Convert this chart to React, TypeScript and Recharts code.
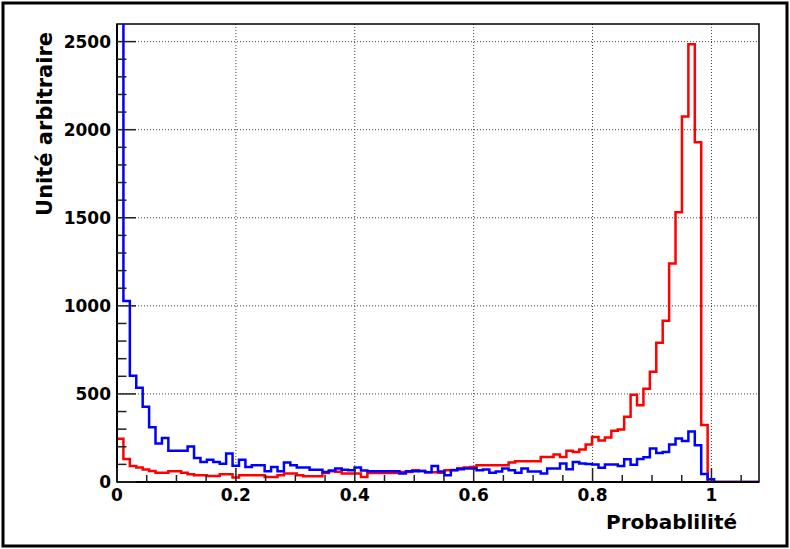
import React from 'react';
import { LineChart, Line, XAxis, YAxis, CartesianGrid, ReferenceArea } from 'recharts';

// Histogram: 100 bins over [0, 1.08]
const BIN_WIDTH = 0.0108;
const X_MAX = 1.08;
const Y_MAX = 2600;

// Red histogram (counts per bin)
const redCounts = [
  246, 130, 91, 82, 71, 63, 53, 53, 61, 61,
  53, 44, 38, 38, 34, 34, 44, 44, 25, 38,
  38, 38, 38, 28, 28, 38, 48, 48, 38, 32,
  32, 32, 51, 61, 58, 48, 48, 48, 28, 51,
  51, 51, 51, 51, 57, 57, 67, 62, 56, 56,
  52, 66, 68, 78, 83, 85, 95, 95, 95, 95,
  95, 110, 118, 118, 118, 118, 142, 142, 156, 142,
  178, 171, 185, 213, 255, 235, 253, 291, 298, 370,
  495, 436, 529, 626, 791, 915, 1240, 1531, 2075, 2485,
  1929, 323, 0, 0, 0, 0, 0, 0, 0, 0,
];

// Blue histogram (counts per bin); first bin is off scale
const blueCounts = [
  3000, 1028, 603, 535, 427, 311, 218, 250, 178, 178,
  178, 201, 136, 114, 126, 114, 103, 162, 92, 127,
  85, 95, 95, 61, 85, 61, 110, 95, 82, 82,
  70, 70, 57, 65, 76, 70, 66, 82, 65, 61,
  61, 61, 61, 61, 48, 61, 61, 62, 55, 91,
  59, 38, 66, 72, 76, 76, 67, 71, 53, 60,
  76, 67, 53, 76, 60, 60, 48, 76, 76, 105,
  73, 114, 105, 102, 100, 81, 100, 99, 91, 129,
  98, 131, 140, 190, 165, 171, 213, 247, 233, 287,
  209, 46, 16, 0, 0, 0, 0, 0, 0, 0,
];

const xTicks = [0, 0.05, 0.1, 0.15, 0.2, 0.25, 0.3, 0.35, 0.4, 0.45, 0.5, 0.55, 0.6, 0.65, 0.7, 0.75, 0.8, 0.85, 0.9, 0.95, 1, 1.05];
const xMajorTicks = [0, 0.2, 0.4, 0.6, 0.8, 1];
const xMajorLabels = ['0', '0.2', '0.4', '0.6', '0.8', '1'];
const yTicks = [0, 100, 200, 300, 400, 500, 600, 700, 800, 900, 1000, 1100, 1200, 1300, 1400, 1500, 1600, 1700, 1800, 1900, 2000, 2100, 2200, 2300, 2400, 2500];
const yMajorTicks = [0, 500, 1000, 1500, 2000, 2500];
const xGrid = [0.2, 0.4, 0.6, 0.8, 1];
const yGrid = [500, 1000, 1500, 2000, 2500];

const yTitle = 'Unité arbitraire';
const xTitle = 'Probablilité';

const FONT = "'DejaVu Sans', 'Liberation Sans', Arial, sans-serif";

const data = [
  ...redCounts.map((r, i) => ({ x: +(i * BIN_WIDTH).toFixed(4), red: r, blue: blueCounts[i] })),
  { x: X_MAX, red: redCounts[redCounts.length - 1], blue: blueCounts[blueCounts.length - 1] },
];

const majorIndex = (v: number) => xMajorTicks.findIndex((m) => Math.abs(m - v) < 1e-6);

const XTick = (props: any) => {
  const { x, y, payload } = props;
  const idx = majorIndex(payload.value);
  const major = idx >= 0;
  return (
    <g>
      <line x1={x} y1={y} x2={x} y2={y - (major ? 14 : 7)} stroke="#222" strokeWidth={1.5} />
      {major && (
        <text x={x} y={y + 19} textAnchor="middle" fontFamily={FONT} fontWeight="bold" fontSize={17} fill="#000">
          {xMajorLabels[idx]}
        </text>
      )}
    </g>
  );
};

const YTick = (props: any) => {
  const { x, y, payload } = props;
  const major = yMajorTicks.includes(payload.value);
  return (
    <g>
      <line x1={x} y1={y} x2={x + (major ? 19 : 9.5)} y2={y} stroke="#222" strokeWidth={1.5} />
      {major && (
        <text x={x - 6} y={y} dy="0.36em" textAnchor="end" fontFamily={FONT} fontWeight="bold" fontSize={17} fill="#000">
          {payload.value}
        </text>
      )}
    </g>
  );
};

export default function App() {
  return (
    <div style={{ position: 'absolute', left: 0, top: 0, width: 790, height: 549, background: '#fff' }}>
      <LineChart width={790} height={549} data={data} margin={{ top: 24, right: 31, bottom: 0, left: 0 }}>
        <CartesianGrid
          stroke="#444"
          strokeDasharray="1 2"
          horizontalValues={yGrid}
          verticalValues={xGrid}
        />
        <XAxis
          type="number"
          dataKey="x"
          domain={[0, X_MAX]}
          allowDataOverflow
          ticks={xTicks}
          interval={0}
          tickSize={0}
          tickMargin={0}
          tick={<XTick />}
          height={67}
          axisLine={{ stroke: '#000', strokeWidth: 2 }}
        />
        <YAxis
          type="number"
          domain={[0, Y_MAX]}
          allowDataOverflow
          ticks={yTicks}
          interval={0}
          tickSize={0}
          tickMargin={0}
          tick={<YTick />}
          width={117}
          axisLine={{ stroke: '#000', strokeWidth: 2 }}
        />
        <Line type="stepAfter" dataKey="red" stroke="#ff0000" strokeWidth={2.5} dot={false} activeDot={false} isAnimationActive={false} />
        <Line type="stepAfter" dataKey="blue" stroke="#0000ff" strokeWidth={2.5} dot={false} activeDot={false} isAnimationActive={false} />
        <ReferenceArea x1={0} x2={X_MAX} y1={0} y2={Y_MAX} fill="none" fillOpacity={0} stroke="#000" strokeWidth={1.5} />
      </LineChart>
      <svg width={790} height={549} style={{ position: 'absolute', left: 0, top: 0, pointerEvents: 'none' }}>
        <rect x={3} y={3} width={784} height={543} fill="none" stroke="#000" strokeWidth={3} />
        <text
          transform="translate(52,32) rotate(-90)"
          textAnchor="end"
          fontFamily={FONT}
          fontWeight="bold"
          fontSize={21}
          fill="#000"
        >
          {yTitle}
        </text>
        <text x={737} y={529} textAnchor="end" fontFamily={FONT} fontWeight="bold" fontSize={20} fill="#000">
          {xTitle}
        </text>
      </svg>
    </div>
  );
}
